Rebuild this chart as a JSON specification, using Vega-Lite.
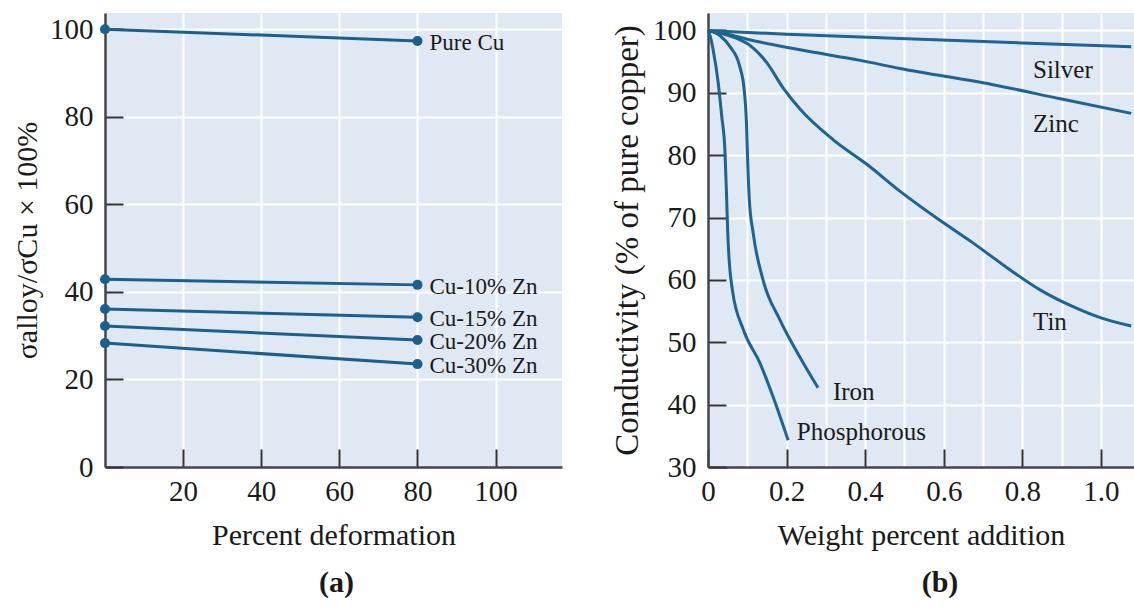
{
  "$schema": "https://vega.github.io/schema/vega-lite/v6.json",
  "padding": {"left": 12, "top": 13, "right": 0, "bottom": 0},
  "autosize": {"type": "pad"},
  "bounds": "flush",
  "spacing": 146,
  "config": {
    "font": "Liberation Serif",
    "view": {"fill": "#dfe8f3", "stroke": null},
    "axis": {
      "gridColor": "#ffffff", "gridWidth": 2, "gridOpacity": 1,
      "domainColor": "#444444", "domainWidth": 2.5,
      "tickColor": "#333333", "tickWidth": 2, "tickSize": -18,
      "labelFont": "Liberation Serif", "labelFontSize": 29, "labelColor": "#1a1a1a",
      "labelFlush": false, "labelOverlap": false,
      "titleFont": "Liberation Serif", "titleFontSize": 30, "titleFontWeight": "normal", "titleColor": "#1a1a1a"
    }
  },
  "datasets": {
    "a": [
      {"alloy": "Pure Cu", "deformation": 0, "ratio": 100},
      {"alloy": "Pure Cu", "deformation": 80, "ratio": 97.3},
      {"alloy": "Cu-10% Zn", "deformation": 0, "ratio": 42.9},
      {"alloy": "Cu-10% Zn", "deformation": 80, "ratio": 41.6},
      {"alloy": "Cu-15% Zn", "deformation": 0, "ratio": 36.1},
      {"alloy": "Cu-15% Zn", "deformation": 80, "ratio": 34.2},
      {"alloy": "Cu-20% Zn", "deformation": 0, "ratio": 32.2},
      {"alloy": "Cu-20% Zn", "deformation": 80, "ratio": 29.0},
      {"alloy": "Cu-30% Zn", "deformation": 0, "ratio": 28.3},
      {"alloy": "Cu-30% Zn", "deformation": 80, "ratio": 23.5}
    ],
    "b": [
      {"element": "Silver", "wt": 0, "cond": 100},
      {"element": "Silver", "wt": 0.2, "cond": 99.4},
      {"element": "Silver", "wt": 0.489, "cond": 98.7},
      {"element": "Silver", "wt": 0.8, "cond": 98.0},
      {"element": "Silver", "wt": 1.077, "cond": 97.4},
      {"element": "Zinc", "wt": 0, "cond": 100},
      {"element": "Zinc", "wt": 0.05, "cond": 99.4},
      {"element": "Zinc", "wt": 0.1, "cond": 98.6},
      {"element": "Zinc", "wt": 0.234, "cond": 96.9},
      {"element": "Zinc", "wt": 0.387, "cond": 95.2},
      {"element": "Zinc", "wt": 0.489, "cond": 93.9},
      {"element": "Zinc", "wt": 0.725, "cond": 91.3},
      {"element": "Zinc", "wt": 0.9, "cond": 89.0},
      {"element": "Zinc", "wt": 1.077, "cond": 86.7},
      {"element": "Tin", "wt": 0, "cond": 100},
      {"element": "Tin", "wt": 0.03, "cond": 99.6},
      {"element": "Tin", "wt": 0.07, "cond": 98.8},
      {"element": "Tin", "wt": 0.107, "cond": 97.6},
      {"element": "Tin", "wt": 0.15, "cond": 94.8},
      {"element": "Tin", "wt": 0.191, "cond": 90.8},
      {"element": "Tin", "wt": 0.234, "cond": 87.4},
      {"element": "Tin", "wt": 0.318, "cond": 82.5},
      {"element": "Tin", "wt": 0.405, "cond": 78.5},
      {"element": "Tin", "wt": 0.489, "cond": 74.2},
      {"element": "Tin", "wt": 0.58, "cond": 70.0},
      {"element": "Tin", "wt": 0.675, "cond": 65.9},
      {"element": "Tin", "wt": 0.76, "cond": 62.0},
      {"element": "Tin", "wt": 0.845, "cond": 58.4},
      {"element": "Tin", "wt": 0.929, "cond": 55.7},
      {"element": "Tin", "wt": 1.0, "cond": 53.9},
      {"element": "Tin", "wt": 1.077, "cond": 52.6},
      {"element": "Iron", "wt": 0, "cond": 100},
      {"element": "Iron", "wt": 0.03, "cond": 99.2},
      {"element": "Iron", "wt": 0.056, "cond": 97.4},
      {"element": "Iron", "wt": 0.081, "cond": 94.2},
      {"element": "Iron", "wt": 0.092, "cond": 90.5},
      {"element": "Iron", "wt": 0.098, "cond": 85.0},
      {"element": "Iron", "wt": 0.101, "cond": 79.0},
      {"element": "Iron", "wt": 0.105, "cond": 73.0},
      {"element": "Iron", "wt": 0.115, "cond": 67.5},
      {"element": "Iron", "wt": 0.14, "cond": 60.0},
      {"element": "Iron", "wt": 0.183, "cond": 53.6},
      {"element": "Iron", "wt": 0.234, "cond": 47.6},
      {"element": "Iron", "wt": 0.28, "cond": 42.7},
      {"element": "Phosphorous", "wt": 0, "cond": 100},
      {"element": "Phosphorous", "wt": 0.006, "cond": 99.0},
      {"element": "Phosphorous", "wt": 0.013, "cond": 96.9},
      {"element": "Phosphorous", "wt": 0.026, "cond": 91.6},
      {"element": "Phosphorous", "wt": 0.035, "cond": 86.2},
      {"element": "Phosphorous", "wt": 0.043, "cond": 80.8},
      {"element": "Phosphorous", "wt": 0.047, "cond": 74.0},
      {"element": "Phosphorous", "wt": 0.05, "cond": 68.0},
      {"element": "Phosphorous", "wt": 0.054, "cond": 63.0},
      {"element": "Phosphorous", "wt": 0.062, "cond": 58.4},
      {"element": "Phosphorous", "wt": 0.09, "cond": 52.0},
      {"element": "Phosphorous", "wt": 0.132, "cond": 46.7},
      {"element": "Phosphorous", "wt": 0.166, "cond": 41.2},
      {"element": "Phosphorous", "wt": 0.204, "cond": 34.3}
    ],
    "blabels": [
      {"label": "Silver", "wt": 0.827, "cond": 92.4},
      {"label": "Zinc", "wt": 0.827, "cond": 83.7},
      {"label": "Tin", "wt": 0.827, "cond": 52.0},
      {"label": "Iron", "wt": 0.318, "cond": 40.75},
      {"label": "Phosphorous", "wt": 0.226, "cond": 34.3}
    ]
  },
  "hconcat": [
    {
      "width": 457,
      "height": 454,
      "title": {"text": "(a)", "orient": "bottom", "anchor": "middle", "frame": "group", "font": "Liberation Serif", "fontSize": 30, "fontWeight": "bold", "color": "#1a1a1a", "offset": 18, "dx": 3},
      "layer": [
        {
          "data": {"name": "a"},
          "mark": {"type": "line", "color": "#1c5f8e", "strokeWidth": 3},
          "encoding": {
            "x": {"field": "deformation", "type": "quantitative",
                  "scale": {"domain": [0, 117], "nice": false, "zero": false},
                  "axis": {"values": [20, 40, 60, 80, 100], "title": "Percent deformation", "labelPadding": 28, "titlePadding": 14}},
            "y": {"field": "ratio", "type": "quantitative",
                  "scale": {"domain": [0, 103.7], "nice": false, "zero": false},
                  "axis": {"values": [0, 20, 40, 60, 80, 100], "title": "σalloy/σCu × 100%", "labelPadding": 30, "titlePadding": 7}},
            "detail": {"field": "alloy"}
          }
        },
        {
          "data": {"name": "a"},
          "mark": {"type": "point", "filled": true, "color": "#1c5f8e", "size": 100, "opacity": 1},
          "encoding": {
            "x": {"field": "deformation", "type": "quantitative"},
            "y": {"field": "ratio", "type": "quantitative"}
          }
        },
        {
          "data": {"name": "a"},
          "transform": [{"filter": "datum.deformation == 80"}],
          "mark": {"type": "text", "align": "left", "baseline": "middle", "dx": 12, "dy": 2, "font": "Liberation Serif", "fontSize": 23, "color": "#1a1a1a"},
          "encoding": {
            "x": {"field": "deformation", "type": "quantitative"},
            "y": {"field": "ratio", "type": "quantitative"},
            "text": {"field": "alloy"}
          }
        }
      ]
    },
    {
      "width": 426,
      "height": 454,
      "title": {"text": "(b)", "orient": "bottom", "anchor": "middle", "frame": "group", "font": "Liberation Serif", "fontSize": 30, "fontWeight": "bold", "color": "#1a1a1a", "offset": 18, "dx": 19},
      "layer": [
        {
          "data": {"name": "b"},
          "mark": {"type": "line", "color": "#1e6391", "strokeWidth": 3, "interpolate": "monotone"},
          "encoding": {
            "x": {"field": "wt", "type": "quantitative",
                  "scale": {"domain": [0, 1.084], "nice": false, "zero": false},
                  "axis": {"values": [0, 0.1, 0.2, 0.3, 0.4, 0.5, 0.6, 0.7, 0.8, 0.9, 1.0],
                           "labelExpr": "datum.value == 0 ? '0' : (round(datum.value * 10) % 2 == 0 ? format(datum.value, '.1f') : '')",
                           "tickOpacity": {"condition": {"test": "round(datum.value * 10) % 2 == 1", "value": 0}, "value": 1},
                           "title": "Weight percent addition", "labelPadding": 28, "titlePadding": 14}},
            "y": {"field": "cond", "type": "quantitative",
                  "scale": {"domain": [30, 102.8], "nice": false, "zero": false},
                  "axis": {"values": [30, 40, 50, 60, 70, 80, 90, 100], "title": "Conductivity (% of pure copper)", "titleFontSize": 33, "labelPadding": 30, "titlePadding": 8}},
            "detail": {"field": "element"}
          }
        },
        {
          "data": {"name": "blabels"},
          "mark": {"type": "text", "align": "left", "baseline": "alphabetic", "font": "Liberation Serif", "fontSize": 25, "color": "#1a1a1a"},
          "encoding": {
            "x": {"field": "wt", "type": "quantitative"},
            "y": {"field": "cond", "type": "quantitative"},
            "text": {"field": "label"}
          }
        }
      ]
    }
  ]
}
